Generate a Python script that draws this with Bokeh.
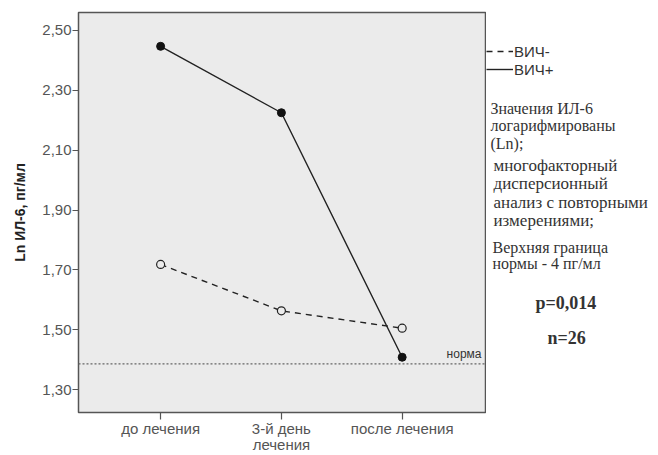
from bokeh.plotting import figure
from bokeh.layouts import row
from bokeh.models import (Range1d, FixedTicker, CustomJSTickFormatter, Label, Span,
                          Legend, LegendItem)
from bokeh.embed import file_html
from bokeh.resources import INLINE

# ---- data ----
categories = ["до лечения", "3-й день\nлечения", "после лечения"]
hiv_pos = [2.447, 2.225, 1.408]
hiv_neg = [1.718, 1.563, 1.505]
norm_value = 1.386  # ln(4)
y_ticks = [1.30, 1.50, 1.70, 1.90, 2.10, 2.30, 2.50]
legend_labels = ["ВИЧ-", "ВИЧ+"]
note_lines = ["Значения ИЛ-6", "логарифмированы", "(Ln);"]
note2_lines = ["многофакторный", "дисперсионный", "анализ с повторными", "измерениями;"]
note3_lines = ["Верхняя граница", "нормы - 4 пг/мл"]
p_text = "p=0,014"
n_text = "n=26"
norm_text = "норма"

# ---- layout (page px) ----
H = 455
FL, FR, FT, FB = 78, 485, 12, 413
X0, X1 = -0.68, 2.69
Y0, Y1 = 1.2233, 2.56
PW = FR + 1
SW = 658 - PW

def dx(px):
    return X0 + (px - FL) / (FR - FL) * (X1 - X0)

xs = list(range(len(categories)))

p = figure(width=PW, height=H, output_backend="svg", toolbar_location=None,
           x_range=Range1d(X0, X1), y_range=Range1d(Y0, Y1),
           min_border_left=FL, min_border_right=PW - FR,
           min_border_top=FT, min_border_bottom=H - FB)
p.background_fill_color = "#ebebeb"
p.border_fill_color = "white"
p.outline_line_color = "#555555"
p.outline_line_width = 1.5
p.grid.visible = False

p.xaxis.ticker = FixedTicker(ticks=xs)
p.xaxis.major_label_overrides = {i: c for i, c in zip(xs, categories)}
p.yaxis.ticker = FixedTicker(ticks=y_ticks)
p.yaxis.formatter = CustomJSTickFormatter(code="return tick.toFixed(2).replace('.', ',');")
for ax in (p.xaxis, p.yaxis):
    ax.axis_line_color = None
    ax.major_tick_line_color = "#555555"
    ax.major_tick_line_width = 1.2
    ax.major_tick_in = 0
    ax.minor_tick_line_color = None
    ax.major_label_text_font = "Liberation Sans"
    ax.major_label_text_color = "#555555"
    ax.major_label_text_font_size = "15px"
p.xaxis.major_tick_out = 7
p.xaxis.major_label_standoff = 0
p.xaxis.major_label_text_line_height = 0.95
p.yaxis.major_tick_out = 6
p.yaxis.major_label_standoff = 1
p.yaxis.axis_label = "Ln ИЛ-6, пг/мл"
p.yaxis.axis_label_text_font = "Liberation Sans"
p.yaxis.axis_label_text_font_style = "bold"
p.yaxis.axis_label_text_font_size = "14px"
p.yaxis.axis_label_text_color = "#222222"
p.yaxis.axis_label_standoff = 11

# norm line
p.add_layout(Span(location=norm_value, dimension="width", line_color="#666666",
                  line_dash="2 2", line_width=1.3))
p.add_layout(Label(x=dx(481), y=norm_value, text=norm_text, text_align="right",
                   text_baseline="bottom", y_offset=3, text_font="Liberation Sans",
                   text_font_size="12px", text_color="#333333"))

# series
line_style = dict(line_color="#222222", line_width=1.4)
DASH = "6 5"
p.line(xs, hiv_neg, line_dash=DASH, **line_style)
p.scatter(xs, hiv_neg, size=8, marker="circle", fill_color="#ebebeb",
          line_color="#222222", line_width=1.2)
p.line(xs, hiv_pos, **line_style)
p.scatter(xs, hiv_pos, size=8, marker="circle", fill_color="#111111",
          line_color="#111111")

# ---- side panel with legend and notes (frame aligned with the main plot frame) ----
s = figure(width=SW, height=H, output_backend="svg", toolbar_location=None,
           x_range=Range1d(PW, 658), y_range=Range1d(FB, FT),
           x_axis_type=None, y_axis_type=None,
           min_border_left=0, min_border_right=0, min_border_top=FT,
           min_border_bottom=H - FB)
s.outline_line_color = None
s.grid.visible = False
s.background_fill_color = "white"

# legend keys (same series, outside this panel's view; only their legend samples show)
k_neg = s.line(xs, hiv_neg, line_dash=DASH, **line_style)
k_pos = s.line(xs, hiv_pos, **line_style)
legend = Legend(items=[LegendItem(label=legend_labels[0], renderers=[k_neg]),
                       LegendItem(label=legend_labels[1], renderers=[k_pos])],
                location=(0, FB - 79), padding=0, margin=0, spacing=0,
                glyph_width=27, glyph_height=18, label_height=18, label_standoff=1,
                label_text_font="Liberation Sans", label_text_font_size="15px",
                label_text_color="#333333", border_line_color=None,
                background_fill_alpha=0)
s.add_layout(legend)

def add_text(txt, px, py, size="16px", style="normal"):
    s.add_layout(Label(x=px, y=py, text=txt, text_baseline="middle",
                       text_font="Liberation Serif", text_font_size=size,
                       text_font_style=style, text_color="#333333"))

for i, t in enumerate(note_lines):
    add_text(t, 490, 108 + 17.5 * i, size="16px")
for i, t in enumerate(note2_lines):
    add_text(t, 493, 165 + 18.5 * i, size="17px")
for i, t in enumerate(note3_lines):
    add_text(t, 492, 248 + 16 * i, size="16px")
add_text(p_text, 535, 303, size="18px", style="bold")
add_text(n_text, 547, 338, size="18px", style="bold")

open("out.html", "w").write(file_html(row(p, s), INLINE))
